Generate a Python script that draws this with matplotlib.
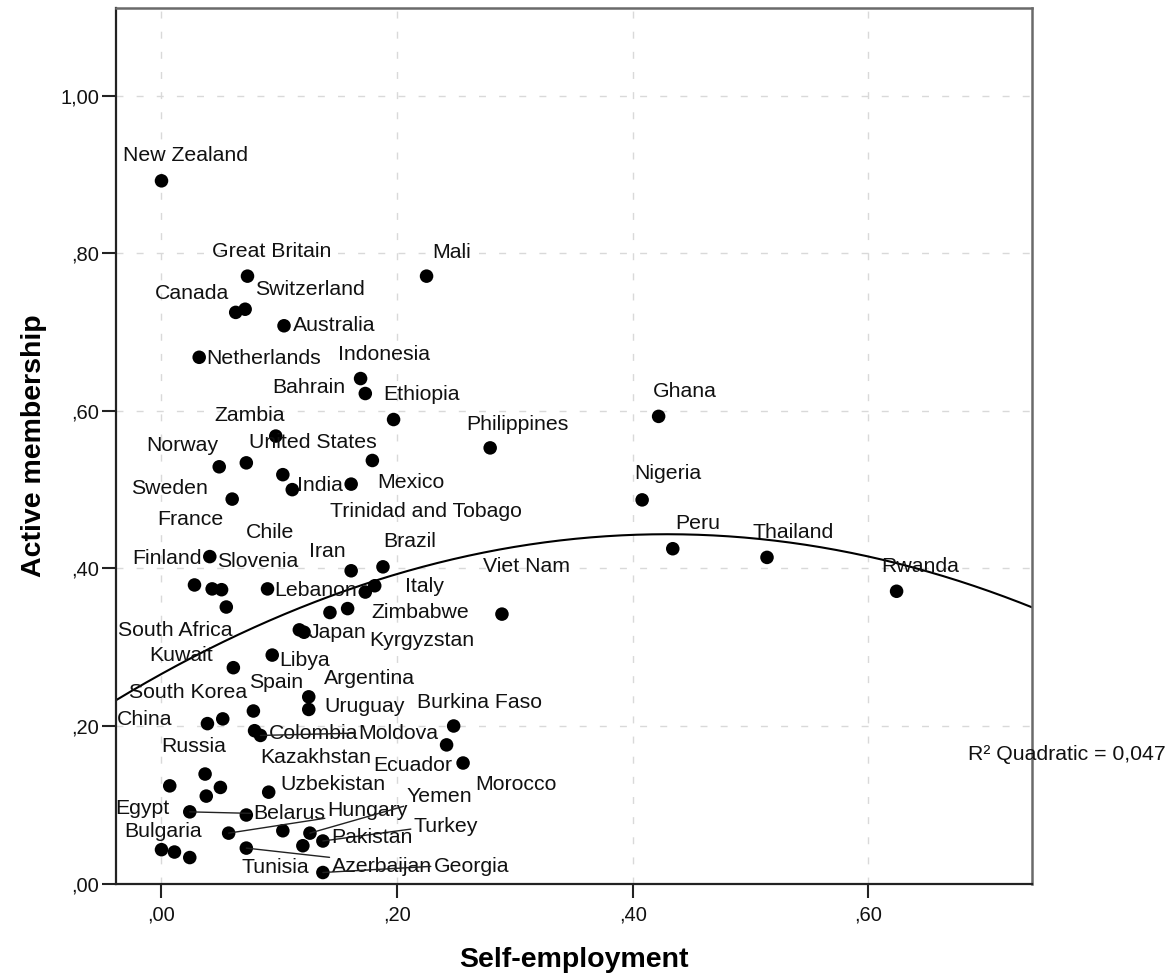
"""Scatter of active membership vs self-employment with quadratic fit (SPSS style)."""

import matplotlib

matplotlib.use("Agg")
import matplotlib.pyplot as plt
import numpy as np

plt.rcParams["font.family"] = ["Liberation Sans", "DejaVu Sans"]

# --- data --------------------------------------------------------------------
COUNTRIES = [
    "New Zealand", "Great Britain", "Canada", "Switzerland", "Australia", "Mali",
    "Netherlands", "Indonesia", "Bahrain", "Ethiopia", "Philippines", "Zambia",
    "Norway", "United States", "Mexico", "Trinidad and Tobago", None, "India",
    "Sweden", "Slovenia", "Finland", "France", "Chile", "South Africa", "Lebanon",
    "Iran", "Brazil", "Italy", None, "Kyrgyzstan", "Zimbabwe", "Japan", None,
    "Libya", "Kuwait", "Argentina", "Uruguay", "Spain", "China", "South Korea",
    "Colombia", "Moldova", "Russia", None, "Kazakhstan", None, "Uzbekistan",
    "Belarus", "Egypt", "Hungary", "Tunisia", "Yemen", "Turkey", "Pakistan",
    "Azerbaijan", "Bulgaria", None, None, "Georgia", "Viet Nam", "Burkina Faso",
    "Ecuador", "Morocco", "Ghana", "Nigeria", "Peru", "Thailand", "Rwanda",
]
SELF_EMPLOYMENT = [
    0.000, 0.073, 0.063, 0.071, 0.104, 0.225,
    0.032, 0.169, 0.173, 0.197, 0.279, 0.097,
    0.049, 0.072, 0.179, 0.161, 0.103, 0.111,
    0.060, 0.041, 0.028, 0.043, 0.051, 0.055, 0.090,
    0.161, 0.188, 0.181, 0.173, 0.143, 0.158, 0.117, 0.121,
    0.094, 0.061, 0.125, 0.125, 0.078, 0.039, 0.052,
    0.079, 0.084, 0.037, 0.007, 0.050, 0.038, 0.091,
    0.024, 0.072, 0.057, 0.103, 0.126, 0.137, 0.120,
    0.072, 0.000, 0.011, 0.024, 0.137, 0.289, 0.248,
    0.242, 0.256, 0.422, 0.408, 0.434, 0.514, 0.624,
]
ACTIVE_MEMBERSHIP = [
    0.892, 0.771, 0.725, 0.729, 0.708, 0.771,
    0.668, 0.641, 0.622, 0.589, 0.553, 0.568,
    0.529, 0.534, 0.537, 0.507, 0.519, 0.500,
    0.488, 0.415, 0.379, 0.374, 0.373, 0.351, 0.374,
    0.397, 0.402, 0.378, 0.370, 0.344, 0.349, 0.322, 0.319,
    0.290, 0.274, 0.237, 0.221, 0.219, 0.203, 0.209,
    0.194, 0.188, 0.139, 0.124, 0.122, 0.111, 0.116,
    0.091, 0.087, 0.064, 0.067, 0.064, 0.054, 0.048,
    0.045, 0.043, 0.040, 0.033, 0.014, 0.342, 0.200,
    0.176, 0.153, 0.593, 0.487, 0.425, 0.414, 0.371,
]
R2_TEXT = "R² Quadratic = 0,047"
X_TICKS = [0.0, 0.2, 0.4, 0.6]
Y_TICKS = [0.0, 0.2, 0.4, 0.6, 0.8, 1.0]

# --- label layout (left edge / vertical centre, data units) ------------------
LABEL_POS = {
    "New Zealand": (-0.033, 0.924), "Great Britain": (0.043, 0.802),
    "Canada": (-0.006, 0.749), "Switzerland": (0.079, 0.754),
    "Australia": (0.112, 0.708), "Mali": (0.230, 0.801),
    "Netherlands": (0.038, 0.667), "Indonesia": (0.150, 0.672),
    "Bahrain": (0.094, 0.630), "Ethiopia": (0.188, 0.621),
    "Zambia": (0.045, 0.594), "United States": (0.074, 0.560),
    "Norway": (-0.013, 0.556), "Sweden": (-0.026, 0.502),
    "India": (0.115, 0.505), "Mexico": (0.183, 0.509),
    "Trinidad and Tobago": (0.143, 0.472), "France": (-0.004, 0.462),
    "Philippines": (0.259, 0.583), "Ghana": (0.417, 0.624),
    "Nigeria": (0.401, 0.520), "Peru": (0.436, 0.457),
    "Thailand": (0.502, 0.446), "Rwanda": (0.611, 0.403),
    "Viet Nam": (0.273, 0.402), "Brazil": (0.188, 0.434),
    "Italy": (0.207, 0.377), "Chile": (0.072, 0.445),
    "Iran": (0.125, 0.421), "Finland": (-0.025, 0.413),
    "Slovenia": (0.047, 0.409), "Lebanon": (0.096, 0.372),
    "Zimbabwe": (0.178, 0.344), "Japan": (0.125, 0.319),
    "Kyrgyzstan": (0.176, 0.308), "South Africa": (-0.037, 0.321),
    "Kuwait": (-0.010, 0.289), "Libya": (0.100, 0.283),
    "Argentina": (0.138, 0.260), "Spain": (0.074, 0.255),
    "South Korea": (-0.028, 0.243), "Uruguay": (0.138, 0.225),
    "Burkina Faso": (0.217, 0.230), "China": (-0.038, 0.208),
    "Colombia": (0.091, 0.191), "Moldova": (0.167, 0.191),
    "Russia": (0.000, 0.174), "Kazakhstan": (0.084, 0.160),
    "Ecuador": (0.180, 0.150), "Uzbekistan": (0.101, 0.126),
    "Morocco": (0.266, 0.126), "Yemen": (0.208, 0.110),
    "Egypt": (-0.039, 0.095), "Belarus": (0.078, 0.089),
    "Hungary": (0.141, 0.093), "Bulgaria": (-0.032, 0.066),
    "Turkey": (0.214, 0.072), "Pakistan": (0.144, 0.059),
    "Tunisia": (0.068, 0.021), "Azerbaijan": (0.145, 0.022),
    "Georgia": (0.231, 0.022),
}
# labels moved away from their point get a leader line; value = where on the
# label's left edge the line starts (0 bottom, 1 top)
LEADERS = {
    "Belarus": 0.5, "Moldova": 0.5, "Hungary": 0.1, "Yemen": 0.05,
    "Turkey": 0.4, "Azerbaijan": 0.95, "Georgia": 0.5,
}

x = np.array(SELF_EMPLOYMENT)
y = np.array(ACTIVE_MEMBERSHIP)

fig = plt.figure(figsize=(11.72, 9.75), dpi=100)
ax = fig.add_axes([0.099, 0.0938, 0.7816, 0.8977])
xlim = (-0.0386, 0.739)
ax.set_xlim(*xlim)
ax.set_ylim(0, 1.111)

ax.grid(True, color="#d9d9d9", linewidth=1.0, linestyle=(0, (5, 9.5)))
ax.set_axisbelow(True)

ax.scatter(x, y, s=95, color="black", edgecolors="none", zorder=3)

coef = np.polyfit(x, y, 2)
xs = np.linspace(*xlim, 300)
ax.plot(xs, np.polyval(coef, xs), color="black", linewidth=1.5, zorder=2)

for name, px, py in zip(COUNTRIES, x, y):
    if name is None or name not in LABEL_POS:
        continue
    lx, ly = LABEL_POS[name]
    props = None
    if name in LEADERS:
        props = dict(arrowstyle="-", color="#222222", linewidth=1.0,
                     shrinkA=0, shrinkB=0, relpos=(0.0, LEADERS[name]))
    ax.annotate(name, xy=(px, py), xytext=(lx, ly), ha="left", va="center",
                fontsize=15.3, color="#111111", arrowprops=props, zorder=4,
                annotation_clip=False)

ax.text(0.685, 0.164, R2_TEXT, ha="left", va="center", fontsize=15.3,
        color="#111111", clip_on=False)

ax.set_xticks(X_TICKS)
ax.set_xticklabels([f"{t:.2f}".replace("0.", ",") for t in X_TICKS])
ax.set_yticks(Y_TICKS)
ax.set_yticklabels([("1,00" if t == 1 else f"{t:.2f}".replace("0.", ",")) for t in Y_TICKS])
ax.tick_params(direction="out", length=10, width=1.5, labelsize=14.5, pad=2,
               colors="#222222", labelcolor="#111111")
ax.tick_params(axis="x", pad=6)

for side in ("left", "bottom"):
    ax.spines[side].set_color("#222222")
    ax.spines[side].set_linewidth(1.6)
for side in ("top", "right"):
    ax.spines[side].set_color("#6a6a6a")
    ax.spines[side].set_linewidth(1.8)

ax.set_xlabel("Self-employment", fontsize=20.5, fontweight="bold", labelpad=16)
ax.set_ylabel("Active membership", fontsize=20.5, fontweight="bold", labelpad=10)

fig.savefig("out.png", dpi=100)
plt.close(fig)
